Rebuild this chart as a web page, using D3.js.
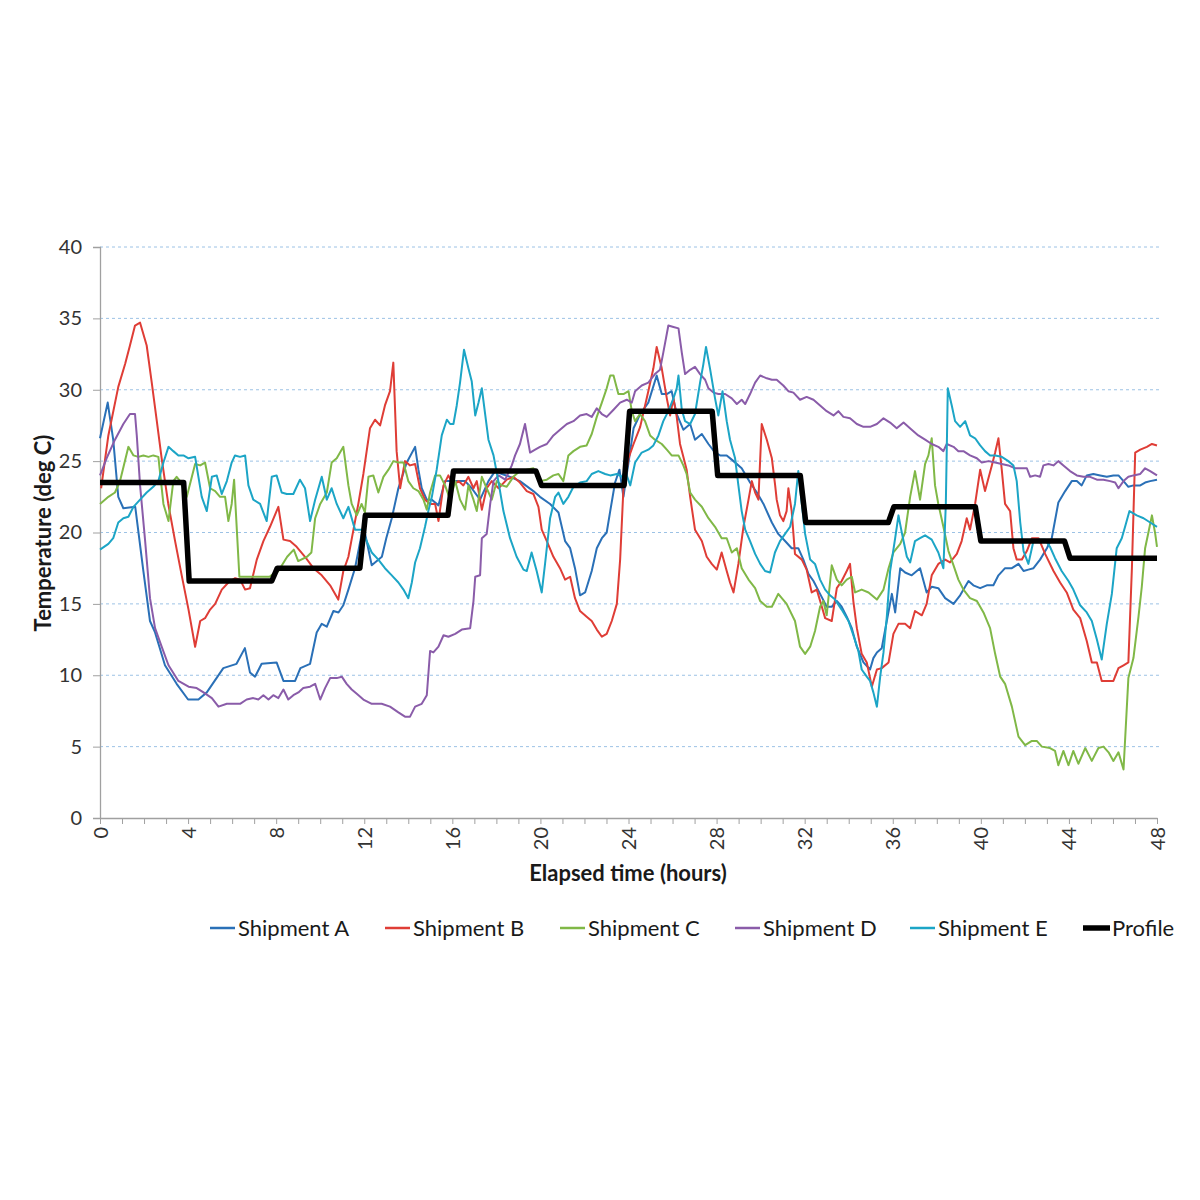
<!DOCTYPE html>
<html>
<head>
<meta charset="utf-8">
<script src="https://cdn.jsdelivr.net/npm/d3@7"></script>
<style>
  html, body { margin: 0; padding: 0; background: #ffffff; }
  svg { display: block; }
</style>
</head>
<body>
<svg id="chart" width="1200" height="1200"></svg>
<script>
// ---------------- DATA ----------------
const yTickValues = [0, 5, 10, 15, 20, 25, 30, 35, 40];
const xTickValues = [0,1,2,3,4,5,6,7,8,9,10,11,12,13,14,15,16,17,18,19,20,21,22,23,24,25,26,27,28,29,30,31,32,33,34,35,36,37,38,39,40,41,42,43,44,45,46,47,48];
const xLabelValues = [0, 4, 8, 12, 16, 20, 24, 28, 32, 36, 40, 44, 48];

const seriesNames = ["Shipment A", "Shipment B", "Shipment C", "Shipment D", "Shipment E", "Profile"];

// [elapsed hours, temperature deg C]
const shipmentA = [[0,26.6],[0.35,29.1],[0.6,26.5],[0.83,22.5],[1.06,21.7],[1.6,21.8],[1.97,17.3],[2.27,13.8],[2.5,13.0],[2.95,10.7],[3.48,9.4],[4.0,8.3],[4.47,8.3],[4.85,8.8],[5.6,10.5],[6.2,10.8],[6.58,11.9],[6.81,10.2],[7.04,9.9],[7.34,10.8],[8.02,10.9],[8.33,9.6],[8.86,9.6],[9.1,10.5],[9.54,10.8],[9.84,13.0],[10.07,13.6],[10.3,13.4],[10.6,14.5],[10.83,14.4],[11.05,14.9],[11.28,16.0],[11.58,17.5],[11.96,20.5],[12.34,17.7],[12.8,18.3],[13.0,19.6],[13.25,21.0],[13.55,23.1],[13.93,24.9],[14.31,26.0],[14.46,24.4],[14.61,23.1],[14.84,22.3],[15.07,22.3],[15.37,21.9],[15.67,23.6],[16.28,23.6],[16.58,23.6],[16.88,23.1],[17.26,22.3],[17.64,23.6],[17.94,24.3],[18.25,24.1],[18.62,23.9],[19.07,23.6],[19.68,22.9],[19.98,22.5],[20.44,22.0],[20.82,21.4],[21.12,19.4],[21.35,18.9],[21.57,17.5],[21.8,15.6],[22.03,15.8],[22.33,17.3],[22.56,18.9],[22.79,19.6],[23.01,20.0],[23.17,21.5],[23.39,23.5],[23.59,24.4],[23.77,22.5],[24.0,24.9],[24.23,27.3],[24.53,28.3],[24.9,29.1],[25.28,31.0],[25.51,29.7],[25.74,29.7],[25.96,29.9],[26.19,28.3],[26.49,27.2],[26.8,27.6],[27.02,26.5],[27.33,26.9],[27.63,26.2],[27.93,25.6],[28.16,25.4],[28.46,25.4],[28.77,25.0],[29.14,24.5],[29.52,23.5],[29.83,22.8],[30.13,22.0],[30.51,20.7],[30.8,19.9],[31.11,19.4],[31.41,18.9],[31.71,18.9],[31.94,18.1],[32.17,17.1],[32.4,16.6],[32.7,15.7],[33.0,14.8],[33.23,14.8],[33.46,15.2],[33.68,14.8],[33.91,14.1],[34.14,13.3],[34.37,12.0],[34.67,10.9],[34.97,10.4],[35.12,11.2],[35.28,11.6],[35.5,11.9],[35.73,13.8],[35.96,15.7],[36.11,14.4],[36.34,17.5],[36.56,17.2],[36.86,17.0],[37.24,17.5],[37.54,15.8],[37.77,16.2],[38.07,16.1],[38.38,15.4],[38.76,15.0],[39.06,15.6],[39.44,16.6],[39.66,16.3],[39.97,16.1],[40.27,16.3],[40.57,16.3],[40.8,17.0],[41.1,17.5],[41.41,17.5],[41.71,17.8],[41.94,17.3],[42.16,17.4],[42.39,17.5],[42.69,18.1],[43.0,18.9],[43.22,19.6],[43.52,22.1],[43.83,22.9],[44.13,23.6],[44.36,23.6],[44.58,23.3],[44.81,24.0],[45.11,24.1],[45.42,24.0],[45.72,23.9],[46.02,24.0],[46.25,24.0],[46.48,23.6],[46.7,23.2],[46.93,23.3],[47.24,23.3],[47.46,23.5],[47.69,23.6],[48.0,23.7]];

const shipmentB = [[0.05,23.1],[0.38,26.8],[0.83,30.2],[1.14,31.8],[1.36,33.1],[1.59,34.5],[1.82,34.7],[2.12,33.1],[2.35,30.5],[2.58,27.8],[2.8,25.2],[3.1,22.0],[3.41,19.4],[3.71,17.0],[4.02,14.6],[4.32,12.0],[4.55,13.8],[4.77,14.0],[5.0,14.6],[5.23,15.0],[5.53,16.0],[5.83,16.5],[6.14,16.8],[6.36,16.7],[6.59,16.0],[6.81,16.1],[7.12,18.1],[7.42,19.4],[7.72,20.4],[8.1,21.8],[8.33,19.5],[8.63,19.4],[8.93,19.0],[9.31,18.3],[9.69,17.5],[10.07,17.0],[10.45,16.3],[10.82,15.3],[11.05,17.3],[11.28,18.3],[11.51,20.2],[11.73,22.0],[11.96,24.1],[12.26,27.3],[12.49,27.9],[12.72,27.5],[12.94,28.9],[13.17,29.9],[13.32,31.9],[13.47,25.7],[13.63,23.1],[13.78,24.4],[13.85,25.0],[14.08,24.7],[14.31,24.8],[14.53,23.1],[14.76,22.3],[14.99,22.0],[15.22,22.0],[15.37,20.8],[15.6,23.3],[15.82,24.0],[16.05,23.3],[16.28,23.6],[16.5,23.3],[16.73,23.9],[16.96,23.1],[17.11,23.6],[17.34,21.6],[17.56,23.1],[17.79,23.6],[18.1,23.1],[18.47,23.7],[18.77,23.9],[19.07,23.5],[19.38,22.9],[19.68,22.7],[19.91,21.8],[20.06,20.2],[20.29,19.4],[20.59,18.3],[20.89,17.5],[21.12,16.7],[21.35,16.9],[21.57,15.4],[21.8,14.5],[22.1,14.1],[22.33,13.8],[22.56,13.2],[22.79,12.7],[23.01,12.9],[23.24,13.8],[23.47,15.0],[23.62,18.1],[23.77,23.1],[24.0,25.2],[24.23,26.2],[24.53,27.4],[24.9,29.9],[25.13,31.5],[25.28,33.0],[25.51,31.5],[25.74,29.4],[25.89,28.2],[26.04,29.4],[26.19,28.1],[26.34,26.2],[26.49,25.3],[26.64,24.4],[26.8,22.5],[27.02,20.2],[27.33,19.4],[27.55,18.3],[27.78,17.8],[28.01,17.4],[28.23,18.6],[28.46,17.3],[28.61,16.5],[28.77,15.8],[28.99,17.8],[29.22,20.4],[29.45,22.3],[29.6,23.6],[29.75,22.8],[29.9,22.3],[30.05,27.6],[30.28,26.5],[30.51,25.2],[30.66,23.3],[30.73,22.3],[30.88,21.2],[31.03,20.8],[31.18,21.5],[31.26,23.1],[31.41,21.5],[31.56,18.5],[31.87,18.1],[32.09,17.4],[32.32,15.8],[32.55,16.0],[32.78,14.8],[32.93,14.0],[33.23,13.8],[33.46,16.1],[33.68,16.6],[33.91,17.3],[34.06,17.8],[34.21,15.2],[34.37,13.3],[34.59,11.5],[34.82,10.9],[35.05,9.2],[35.28,10.4],[35.5,10.5],[35.81,10.9],[36.03,12.9],[36.26,13.6],[36.56,13.6],[36.79,13.3],[37.01,14.5],[37.32,14.2],[37.54,15.0],[37.77,17.0],[38.07,17.8],[38.38,18.1],[38.6,17.9],[38.91,18.5],[39.13,19.4],[39.36,21.0],[39.51,20.2],[39.74,22.0],[39.97,24.4],[40.19,22.9],[40.5,24.7],[40.65,25.6],[40.8,26.6],[40.95,24.4],[41.1,22.0],[41.33,21.5],[41.48,18.9],[41.63,18.1],[41.86,18.1],[42.09,18.7],[42.32,19.6],[42.62,19.6],[42.92,18.5],[43.3,17.3],[43.6,16.5],[43.9,15.8],[44.2,14.6],[44.51,14.0],[44.81,12.4],[45.04,10.9],[45.27,10.9],[45.49,9.6],[45.72,9.6],[46.02,9.6],[46.25,10.5],[46.48,10.7],[46.7,10.9],[46.86,17.5],[47.01,25.6],[47.24,25.8],[47.54,26.0],[47.77,26.2],[48.0,26.1]];

const shipmentC = [[0,22.0],[0.38,22.5],[0.68,22.8],[0.91,23.6],[1.29,26.0],[1.52,25.4],[1.74,25.3],[1.97,25.4],[2.2,25.3],[2.42,25.4],[2.65,25.3],[2.88,22.0],[3.11,20.8],[3.33,23.6],[3.48,23.9],[3.64,23.6],[3.94,22.5],[4.32,24.8],[4.55,24.7],[4.77,24.9],[5.0,23.1],[5.23,22.9],[5.45,22.5],[5.68,22.5],[5.83,20.8],[5.98,22.0],[6.09,23.7],[6.33,16.9],[7.7,16.9],[7.87,17.1],[8.1,17.3],[8.5,18.3],[8.8,18.8],[9.0,18.0],[9.4,18.3],[9.6,18.6],[9.77,21.0],[10.0,22.0],[10.3,22.8],[10.52,24.9],[10.75,25.2],[11.05,26.0],[11.28,23.3],[11.43,22.0],[11.66,21.2],[11.88,22.0],[12.03,21.4],[12.19,23.9],[12.41,24.0],[12.64,22.8],[12.87,23.9],[13.1,24.4],[13.32,25.0],[13.55,24.9],[13.78,24.9],[14.0,23.6],[14.23,23.1],[14.46,22.9],[14.69,22.3],[14.84,21.6],[14.99,22.8],[15.22,24.0],[15.44,24.0],[15.67,23.3],[15.9,22.3],[16.13,23.6],[16.35,22.3],[16.58,21.6],[16.73,23.3],[16.96,22.3],[17.11,21.5],[17.34,23.9],[17.56,23.1],[17.79,22.3],[18.02,23.6],[18.25,23.3],[18.47,23.2],[18.77,23.9],[19.07,24.3],[19.38,24.4],[19.68,24.5],[19.98,23.6],[20.29,23.7],[20.59,24.0],[20.82,24.1],[21.04,23.6],[21.27,25.4],[21.5,25.7],[21.8,26.0],[22.1,26.1],[22.33,26.9],[22.56,28.1],[22.79,29.1],[23.01,30.1],[23.17,31.0],[23.32,31.0],[23.54,29.7],[23.77,29.7],[24.0,29.9],[24.15,28.5],[24.3,27.8],[24.52,28.3],[24.75,27.8],[24.98,26.8],[25.2,26.5],[25.51,26.2],[25.74,25.8],[25.96,25.4],[26.27,25.4],[26.49,24.7],[26.64,24.1],[26.8,22.8],[27.02,22.3],[27.33,21.8],[27.63,21.0],[27.93,20.4],[28.23,19.6],[28.46,19.6],[28.69,18.6],[28.92,18.9],[29.14,17.5],[29.45,16.7],[29.75,16.1],[29.98,15.2],[30.28,14.8],[30.51,14.8],[30.8,15.7],[31.18,15.0],[31.56,13.8],[31.79,12.0],[32.02,11.5],[32.25,12.0],[32.47,13.1],[32.7,14.8],[32.85,15.2],[33.0,14.2],[33.23,17.7],[33.46,16.7],[33.68,16.3],[33.91,16.7],[34.14,16.9],[34.29,15.8],[34.59,16.0],[34.9,15.8],[35.28,15.3],[35.58,16.0],[35.81,17.5],[36.03,18.6],[36.34,19.2],[36.56,20.0],[36.79,22.5],[37.01,24.3],[37.24,22.3],[37.47,24.8],[37.62,25.4],[37.77,26.6],[37.92,23.3],[38.07,22.0],[38.3,20.4],[38.53,18.7],[38.76,17.7],[38.98,16.7],[39.21,16.0],[39.51,15.4],[39.82,15.2],[40.12,14.4],[40.42,13.3],[40.65,11.5],[40.88,9.9],[41.1,9.4],[41.41,7.8],[41.71,5.7],[42.01,5.1],[42.32,5.4],[42.54,5.4],[42.77,5.0],[43.14,4.9],[43.37,4.7],[43.52,3.7],[43.75,4.7],[43.98,3.7],[44.2,4.7],[44.43,3.8],[44.74,4.9],[45.04,4.0],[45.34,4.9],[45.57,5.0],[45.8,4.6],[46.02,4.0],[46.25,4.6],[46.48,3.4],[46.7,9.8],[46.93,11.2],[47.16,14.1],[47.31,16.2],[47.46,18.9],[47.61,20.0],[47.77,21.2],[47.92,19.9],[48.0,19.0]];

const shipmentD = [[0,24.0],[0.3,25.2],[0.68,26.5],[1.06,27.6],[1.36,28.3],[1.59,28.3],[1.67,26.8],[1.82,23.3],[2.05,19.4],[2.27,15.4],[2.5,13.3],[2.8,12.0],[3.11,10.7],[3.56,9.6],[4.02,9.2],[4.39,9.1],[4.7,8.8],[5.08,8.4],[5.38,7.8],[5.76,8.0],[6.36,8.0],[6.66,8.3],[6.96,8.4],[7.19,8.3],[7.42,8.6],[7.65,8.3],[7.87,8.6],[8.1,8.4],[8.33,9.0],[8.55,8.3],[8.78,8.6],[9.01,8.8],[9.23,9.1],[9.54,9.2],[9.77,9.4],[10.0,8.3],[10.22,9.1],[10.45,9.8],[10.75,9.8],[10.98,9.9],[11.2,9.4],[11.43,9.0],[11.66,8.7],[11.96,8.3],[12.34,8.0],[12.79,8.0],[13.17,7.8],[13.55,7.4],[13.85,7.1],[14.08,7.1],[14.31,7.8],[14.61,8.0],[14.84,8.6],[14.99,11.7],[15.14,11.6],[15.37,12.0],[15.6,12.8],[15.82,12.7],[16.13,12.9],[16.43,13.2],[16.81,13.3],[16.96,15.2],[17.04,16.9],[17.26,17.0],[17.34,19.6],[17.56,19.9],[17.72,22.0],[17.87,23.6],[18.1,24.0],[18.4,23.7],[18.7,24.7],[18.85,25.4],[19.07,26.2],[19.3,27.6],[19.53,25.6],[19.76,25.8],[19.98,26.0],[20.29,26.2],[20.59,26.8],[20.89,27.2],[21.2,27.6],[21.5,27.8],[21.8,28.2],[22.1,28.3],[22.33,28.1],[22.56,28.7],[22.79,28.3],[23.01,28.1],[23.32,28.6],[23.62,29.1],[23.92,29.3],[24.15,29.1],[24.3,29.9],[24.6,30.3],[24.9,30.5],[25.2,31.1],[25.43,31.4],[25.58,32.6],[25.81,34.5],[26.04,34.4],[26.27,34.3],[26.42,32.6],[26.57,31.1],[26.8,31.4],[27.02,31.6],[27.25,31.1],[27.48,30.7],[27.63,30.1],[27.86,29.8],[28.08,29.7],[28.39,29.7],[28.69,29.4],[28.92,29.0],[29.14,29.3],[29.3,29.0],[29.52,29.7],[29.75,30.5],[29.98,31.0],[30.28,30.8],[30.51,30.7],[30.73,30.7],[31.03,30.3],[31.26,29.9],[31.49,29.8],[31.79,29.3],[32.09,29.5],[32.4,29.3],[32.7,28.9],[33.0,28.5],[33.31,28.2],[33.53,28.5],[33.76,28.1],[34.06,28.0],[34.37,27.6],[34.67,27.4],[34.97,27.4],[35.28,27.6],[35.58,28.0],[35.88,27.7],[36.18,27.3],[36.49,27.7],[36.86,27.2],[37.16,26.8],[37.47,26.5],[37.77,26.2],[38.07,26.0],[38.3,25.7],[38.45,26.2],[38.76,26.0],[38.98,25.7],[39.21,25.7],[39.51,25.4],[39.82,25.2],[40.04,24.9],[40.35,25.0],[40.65,24.9],[40.95,24.8],[41.25,24.7],[41.56,24.5],[41.86,24.5],[42.09,24.5],[42.24,23.9],[42.47,24.0],[42.69,23.9],[42.84,24.7],[43.07,24.8],[43.3,24.7],[43.52,25.0],[43.75,24.7],[44.05,24.3],[44.36,24.0],[44.66,23.9],[44.96,23.9],[45.27,23.7],[45.57,23.7],[45.87,23.6],[46.1,23.5],[46.25,23.1],[46.48,23.6],[46.7,23.9],[46.93,24.0],[47.24,24.1],[47.46,24.5],[47.69,24.3],[48.0,24.0]];

const shipmentE = [[0,18.8],[0.38,19.2],[0.6,19.6],[0.83,20.7],[1.06,21.0],[1.29,21.1],[1.52,21.8],[1.82,22.3],[2.12,22.8],[2.42,23.2],[2.65,23.6],[2.88,24.9],[3.11,26.0],[3.33,25.7],[3.56,25.4],[3.79,25.4],[4.02,25.2],[4.32,25.3],[4.47,23.9],[4.62,22.5],[4.85,21.5],[5.08,23.9],[5.3,24.0],[5.53,22.7],[5.76,23.6],[5.98,24.9],[6.13,25.4],[6.36,25.3],[6.59,25.4],[6.74,23.3],[6.96,22.3],[7.27,22.0],[7.57,20.8],[7.8,23.9],[8.02,24.0],[8.25,22.8],[8.48,22.7],[8.78,22.7],[9.08,23.7],[9.31,23.1],[9.54,20.8],[9.77,22.3],[10.07,23.9],[10.3,22.3],[10.52,23.1],[10.75,22.0],[11.05,21.0],[11.28,21.8],[11.58,20.2],[11.88,20.2],[12.11,19.4],[12.34,18.6],[12.64,18.1],[12.94,17.5],[13.25,17.0],[13.55,16.5],[13.78,16.0],[14.0,15.4],[14.16,16.5],[14.31,17.9],[14.53,18.9],[14.76,20.4],[14.91,21.5],[15.07,22.5],[15.29,24.4],[15.52,26.8],[15.75,27.9],[15.9,27.6],[16.05,27.6],[16.2,28.9],[16.35,30.5],[16.53,32.8],[16.73,31.5],[16.88,30.6],[17.04,28.2],[17.19,29.1],[17.34,30.1],[17.49,28.3],[17.64,26.5],[17.87,25.4],[18.1,23.5],[18.32,21.5],[18.62,19.6],[18.92,18.3],[19.23,17.4],[19.38,17.3],[19.6,18.6],[19.83,17.3],[20.06,15.8],[20.21,17.8],[20.44,21.0],[20.67,22.5],[20.82,22.8],[21.04,22.0],[21.27,22.5],[21.5,23.2],[21.8,23.5],[22.1,23.6],[22.33,24.1],[22.63,24.3],[22.94,24.1],[23.17,24.0],[23.47,24.1],[23.7,23.9],[23.85,24.3],[24.08,23.3],[24.3,24.9],[24.6,25.6],[24.9,25.8],[25.13,26.1],[25.36,26.8],[25.58,27.8],[25.81,28.5],[26.04,29.4],[26.19,30.1],[26.27,31.0],[26.42,28.6],[26.57,27.8],[26.8,27.6],[27.02,28.3],[27.25,30.5],[27.4,31.8],[27.52,33.0],[27.7,31.5],[27.93,29.4],[28.08,28.2],[28.27,29.9],[28.46,27.8],[28.61,26.5],[28.84,25.2],[28.99,23.3],[29.14,21.5],[29.3,20.2],[29.52,19.4],[29.75,18.5],[29.98,17.8],[30.2,17.3],[30.43,17.2],[30.65,18.6],[30.88,19.4],[31.11,19.9],[31.34,20.4],[31.56,22.0],[31.71,24.3],[31.87,22.0],[32.02,19.9],[32.25,18.1],[32.47,17.8],[32.7,16.7],[32.93,16.0],[33.15,15.6],[33.38,15.3],[33.68,14.6],[33.99,13.8],[34.21,12.8],[34.44,11.7],[34.59,10.4],[34.82,9.9],[34.97,9.6],[35.12,8.8],[35.28,7.8],[35.43,9.9],[35.58,11.6],[35.73,14.1],[35.88,17.3],[36.11,19.6],[36.26,21.2],[36.41,20.0],[36.64,18.3],[36.79,17.9],[37.01,19.4],[37.24,19.6],[37.47,19.8],[37.77,19.5],[38.07,18.6],[38.3,17.5],[38.41,22.0],[38.5,30.1],[38.68,28.9],[38.83,27.8],[39.06,27.4],[39.29,27.8],[39.51,26.8],[39.74,26.6],[39.97,26.1],[40.19,25.7],[40.42,25.4],[40.65,25.4],[40.95,25.3],[41.25,25.0],[41.48,24.7],[41.63,23.6],[41.79,20.7],[41.94,18.7],[42.16,17.8],[42.39,19.4],[42.62,19.5],[42.92,19.5],[43.14,19.0],[43.37,18.2],[43.67,17.3],[43.98,16.6],[44.2,16.0],[44.51,14.9],[44.81,14.4],[45.04,13.8],[45.27,12.5],[45.49,11.1],[45.72,13.6],[45.95,15.7],[46.17,18.9],[46.4,19.6],[46.55,20.4],[46.75,21.5],[47.08,21.2],[47.39,21.0],[47.69,20.7],[48.0,20.4]];

const profile = [[0,23.5],[3.8,23.5],[4.05,16.6],[7.8,16.6],[8.05,17.5],[11.8,17.5],[12.05,21.2],[15.8,21.2],[16.05,24.3],[19.8,24.3],[20.05,23.3],[23.8,23.3],[24.05,28.5],[27.8,28.5],[28.05,24.0],[31.8,24.0],[32.05,20.7],[35.8,20.7],[36.05,21.8],[39.75,21.8],[40.0,19.4],[43.8,19.4],[44.05,18.2],[48,18.2]];

// ---------------- CHART ----------------
const colors = ["#2a70b7", "#df3d36", "#80b847", "#8a5ca9", "#1ca5c6", "#000000"];
const widths = [2, 2, 2, 2, 2, 5.5];
const allSeries = [shipmentA, shipmentB, shipmentC, shipmentD, shipmentE, profile];

const FONT = "Lato, 'Open Sans', sans-serif";
const svg = d3.select("#chart");
svg.append("rect").attr("width", 1200).attr("height", 1200).attr("fill", "#ffffff");

const x = d3.scaleLinear().domain([0, 48]).range([100, 1157]);
const y = d3.scaleLinear().domain([0, 40]).range([818, 247]);

// Gridlines
svg.append("g")
  .selectAll("line")
  .data(yTickValues.filter(v => v > 0))
  .join("line")
  .attr("x1", x(0)).attr("x2", x(48) + 2)
  .attr("y1", d => y(d)).attr("y2", d => y(d))
  .attr("stroke", "#9cc2e5")
  .attr("stroke-width", 1)
  .attr("stroke-dasharray", "3,3");

// Y axis
const yAxis = svg.append("g")
  .attr("transform", `translate(${x(0)},0)`)
  .call(d3.axisLeft(y).tickValues(yTickValues).tickSize(7).tickPadding(11).tickFormat(d3.format("d")));
yAxis.select(".domain").attr("stroke", "#a0a0a0").attr("stroke-width", 1.3);
yAxis.selectAll(".tick line").attr("stroke", "#a0a0a0");
yAxis.selectAll("text").attr("font-family", FONT).attr("font-size", 20).attr("fill", "#333333");

// X axis
const xAxis = svg.append("g")
  .attr("transform", `translate(0,${y(0)})`)
  .call(d3.axisBottom(x).tickValues(xTickValues).tickSize(6).tickSizeOuter(0)
    .tickFormat(d => xLabelValues.includes(d) ? String(d) : ""));
xAxis.select(".domain").attr("stroke", "#a0a0a0").attr("stroke-width", 1.3);
xAxis.selectAll(".tick line").attr("stroke", "#a0a0a0");
xAxis.selectAll("text")
  .attr("font-family", FONT).attr("font-size", 20).attr("fill", "#333333")
  .attr("transform", "rotate(-90)")
  .attr("text-anchor", "end")
  .attr("x", -9).attr("y", 0).attr("dy", "0.35em");

// Axis titles
svg.append("text")
  .attr("x", 628).attr("y", 881)
  .attr("text-anchor", "middle")
  .attr("font-family", FONT).attr("font-weight", "bold").attr("font-size", 22)
  .attr("fill", "#1a1a1a")
  .text("Elapsed time (hours)");

svg.append("text")
  .attr("transform", "translate(51,533) rotate(-90)")
  .attr("text-anchor", "middle")
  .attr("font-family", FONT).attr("font-weight", "bold").attr("font-size", 22)
  .attr("fill", "#1a1a1a")
  .text("Temperature (deg C)");

// Lines
const line = d3.line().x(d => x(d[0])).y(d => y(d[1]));
svg.append("g")
  .selectAll("path")
  .data(allSeries)
  .join("path")
  .attr("d", d => line(d))
  .attr("fill", "none")
  .attr("stroke", (d, i) => colors[i])
  .attr("stroke-width", (d, i) => widths[i])
  .attr("stroke-linejoin", "round")
  .attr("stroke-linecap", "butt");

// Legend
const legendX = [210, 385, 560, 735, 910, 1083];
const legend = svg.append("g")
  .selectAll("g")
  .data(seriesNames)
  .join("g")
  .attr("transform", (d, i) => `translate(${legendX[i]},928)`);
legend.append("line")
  .attr("x1", 0).attr("x2", (d, i) => i === 5 ? 27 : 25)
  .attr("y1", 0).attr("y2", 0)
  .attr("stroke", (d, i) => colors[i])
  .attr("stroke-width", (d, i) => i === 5 ? 5.5 : 2.5);
legend.append("text")
  .attr("x", (d, i) => i === 5 ? 29 : 28)
  .attr("y", 0).attr("dy", "0.35em")
  .attr("font-family", FONT).attr("font-size", 22)
  .attr("fill", "#1a1a1a")
  .text(d => d);
</script>
</body>
</html>
